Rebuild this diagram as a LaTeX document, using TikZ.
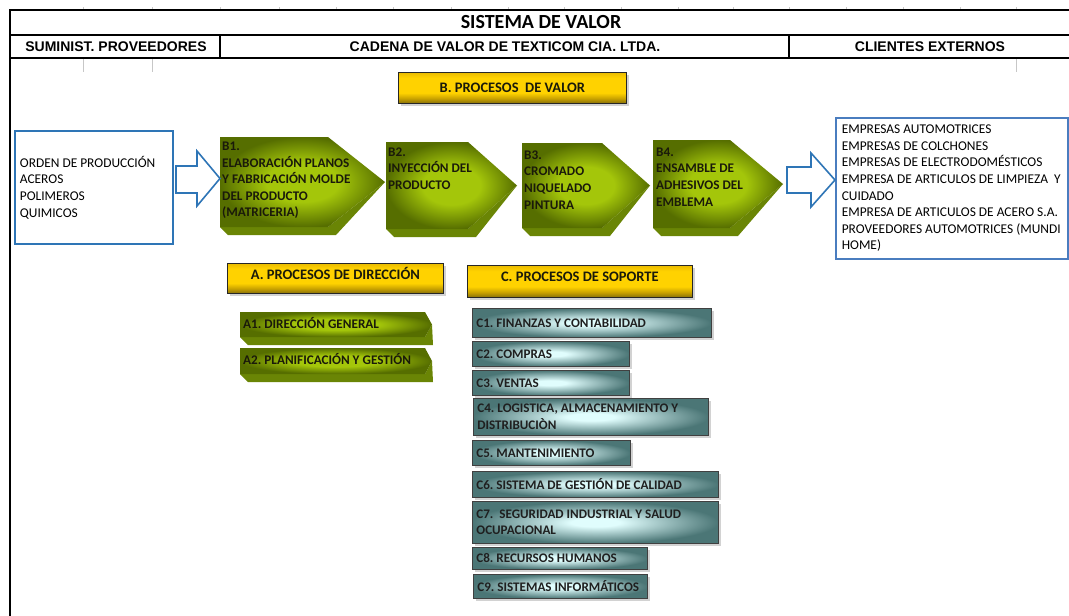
\documentclass[tikz,border=0pt]{standalone}
\usepackage{fontspec}
\setmainfont{Carlito}
\newfontfamily\arialfont{Liberation Sans}
\usetikzlibrary{shadows}
\frenchspacing

% palette
\definecolor{boxblue}{HTML}{2E75B6}
\definecolor{rboxblue}{HTML}{4A7DBF}
\definecolor{glight}{HTML}{A4C60A}
\definecolor{gdark}{HTML}{566E00}
\definecolor{gside}{HTML}{6A8505}
\definecolor{tlight}{HTML}{E0FDFD}
\definecolor{tdark}{HTML}{4B7676}
\definecolor{ytop}{HTML}{EABB00}
\definecolor{ymid}{HTML}{FFD200}
\definecolor{ylow}{HTML}{C9A200}
\definecolor{ybot}{HTML}{86700A}
\definecolor{inktext}{HTML}{1A1A0A}

% fills
\pgfdeclareradialshading{greenglow}{\pgfpointorigin}{color(0bp)=(glight); color(11bp)=(glight); color(25bp)=(gdark); color(50bp)=(gdark)}
\pgfdeclareradialshading{tealglow}{\pgfpointorigin}{color(0bp)=(tlight); color(5bp)=(tlight); color(25bp)=(tdark); color(50bp)=(tdark)}
\pgfdeclareverticalshading{goldbar}{100bp}{color(0bp)=(ybot); color(25bp)=(ybot); color(33bp)=(ylow); color(42bp)=(ymid); color(66bp)=(ymid); color(75bp)=(ytop); color(100bp)=(ytop)}

% chevron with a bevelled lower edge: left, top, shoulder x, tip x, bottom, depth
\newcommand\greenchevron[6]{%
  \fill[gside] (#1,#5) -- ({#1+#6},{#5+#6}) -- ({#3+#6},{#5+#6}) -- (#4,{(#2+#5)/2}) -- (#3,#5) -- cycle;
  \shade[shading=greenglow] (#1,#2) -- (#3,#2) -- (#4,{(#2+#5)/2}) -- (#3,#5) -- (#1,#5) -- cycle;
}

\tikzset{
  frame/.style={line width=2pt, black},
  gridtick/.style={draw=black!22, line width=0.7pt},
  titletext/.style={font=\bfseries\fontsize{20}{22}\selectfont, inner sep=0pt},
  headtext/.style={font=\arialfont\bfseries\fontsize{14}{16}\selectfont, inner sep=0pt},
  listbox/.style={anchor=north west, align=flush left, font=\fontsize{13.4}{16.6}\selectfont},
  blockarrow/.style={draw=boxblue, line width=1.6pt, fill=white, line join=miter},
  goldbox/.style={draw=black!85, line width=0.8pt, shade, shading=goldbar,
    drop shadow={shadow xshift=3pt, shadow yshift=-3pt, fill=black!35},
    anchor=north west, font=\bfseries\fontsize{14.5}{16}\selectfont, text=inktext, inner sep=0pt},
  chevtext/.style={font=\bfseries\fontsize{13.2}{16.6}\selectfont, text=inktext, align=left, inner sep=0pt, anchor=west},
  cbox/.style={draw=black!75, line width=0.8pt, shade, shading=tealglow,
    drop shadow={shadow xshift=3pt, shadow yshift=-3pt, fill=black!35},
    anchor=north west, align=flush left, font=\bfseries\fontsize{13.1}{16.6}\selectfont,
    text=black!88, inner xsep=4pt, inner ysep=0pt}
}

\begin{document}
\begin{tikzpicture}[x=1pt, y=-1pt]
\useasboundingbox (0,0) rectangle (1069,616);

% spreadsheet column marks
\foreach \cx in {83,152,220,279,336,393,451,508,564,621,678,733,789,846,903,960,1016}
  \draw[gridtick] (\cx,7) -- (\cx,10);
\foreach \cx in {83,152,1016}
  \draw[gridtick] (\cx,59) -- (\cx,72);

% header frame
\draw[frame] (1069,10) -- (10,10) -- (10,616);
\draw[frame] (10,35) -- (1069,35);
\draw[frame] (10,58) -- (1069,58);
\draw[frame] (220,35) -- (220,58);
\draw[frame] (789,35) -- (789,58);

\node[titletext] (title) at (541,22) {SISTEMA DE VALOR};
\node[headtext] (sup) at (116,47) {SUMINIST. PROVEEDORES};
\node[headtext] (cad) at (505,47) {CADENA DE VALOR DE TEXTICOM CIA. LTDA.};
\node[headtext] (cli) at (930,47) {CLIENTES EXTERNOS};

% section labels
\node[goldbox, minimum width=228pt, minimum height=31pt] (labB) at (398,72) {B. PROCESOS\ \ DE VALOR};
\node[goldbox, minimum width=216pt, minimum height=30pt, text height=10pt, text depth=8pt] (labA) at (227,263) {A. PROCESOS DE DIRECCIÓN};
\node[goldbox, minimum width=225pt, minimum height=32pt, text height=10pt, text depth=10pt] (labC) at (467,265) {C. PROCESOS DE SOPORTE};

% inputs and customers
\node[listbox, draw=boxblue, line width=1.8pt, minimum height=113pt, text width=148pt, inner xsep=5pt] (src) at (14,130)
  {ORDEN DE PRODUCCIÓN\\ACEROS\\POLIMEROS\\QUIMICOS};
\node[listbox, draw=rboxblue, line width=1.6pt, minimum height=141pt, text width=220pt, inner xsep=6pt] (dst) at (835,117)
  {EMPRESAS AUTOMOTRICES\\EMPRESAS DE COLCHONES\\EMPRESAS DE ELECTRODOMÉSTICOS\\EMPRESA DE ARTICULOS DE LIMPIEZA~~Y\\CUIDADO\\EMPRESA DE ARTICULOS DE ACERO S.A.\\PROVEEDORES AUTOMOTRICES (MUNDI\\HOME)};

% value chain
\greenchevron{220}{137}{328}{385}{227}{8}
\greenchevron{386}{142}{468}{517}{229}{8}
\greenchevron{522}{143}{602}{650}{228}{8}
\greenchevron{653}{140}{730}{783}{228}{8}

\node[chevtext] (b1) at (222,180.5) {B1.\\ELABORACIÓN PLANOS\\Y FABRICACIÓN MOLDE\\DEL PRODUCTO\\(MATRICERIA)};
\node[chevtext] (b2) at (388,168.5) {B2.\\INYECCIÓN DEL\\PRODUCTO};
\node[chevtext] (b3) at (524,180) {B3.\\CROMADO\\NIQUELADO\\PINTURA};
\node[chevtext] (b4) at (656,177) {B4.\\ENSAMBLE DE\\ADHESIVOS DEL\\EMBLEMA};

% block arrows into and out of the chain
\draw[blockarrow] (176,166) -- (197,166) -- (197,151) -- (220,178.5) -- (197,206) -- (197,193) -- (176,193) -- cycle;
\draw[blockarrow] (787,167) -- (811,167) -- (811,153) -- (835,180) -- (811,207) -- (811,193) -- (787,193) -- cycle;

% management processes
\greenchevron{240}{312}{425}{432}{337}{8}
\greenchevron{240}{348}{425}{432}{374}{8}
\node[chevtext] (a1) at (243,323) {A1. DIRECCIÓN GENERAL};
\node[chevtext] (a2) at (243,359) {A2. PLANIFICACIÓN Y GESTIÓN};

% support processes
\node[cbox, text width=231pt, minimum height=29pt] (c1) at (472,308) {C1. FINANZAS Y CONTABILIDAD};
\node[cbox, text width=149pt, minimum height=25pt] (c2) at (472,341) {C2. COMPRAS};
\node[cbox, text width=149pt, minimum height=25pt] (c3) at (472,370) {C3. VENTAS};
\node[cbox, text width=227pt, minimum height=37pt] (c4) at (473,398) {C4. LOGISTICA, ALMACENAMIENTO Y\\DISTRIBUCIÒN};
\node[cbox, text width=150pt, minimum height=25pt] (c5) at (472,440) {C5. MANTENIMIENTO};
\node[cbox, text width=238pt, minimum height=26pt] (c6) at (472,471) {C6. SISTEMA DE GESTIÓN DE CALIDAD};
\node[cbox, text width=238pt, minimum height=42pt] (c7) at (472,501) {C7.\ \ SEGURIDAD INDUSTRIAL Y SALUD\\OCUPACIONAL};
\node[cbox, text width=167pt, minimum height=22pt] (c8) at (472,547) {C8. RECURSOS HUMANOS};
\node[cbox, text width=166pt, minimum height=24pt] (c9) at (473,574) {C9. SISTEMAS INFORMÁTICOS};
\end{tikzpicture}
\end{document}
